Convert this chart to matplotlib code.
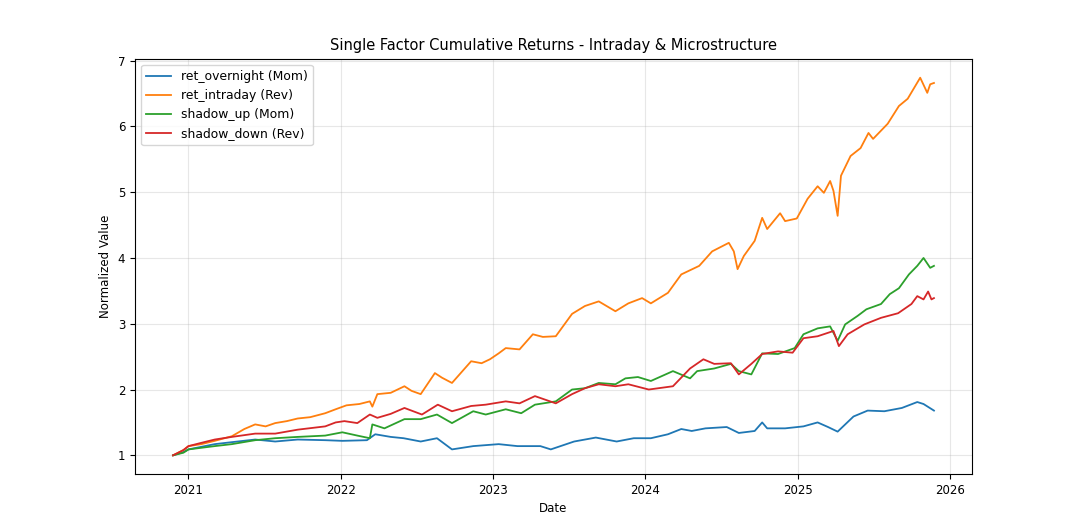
import matplotlib.pyplot as plt
import pandas as pd

# values (approximate)
overnight_dates = ['2020-11-25', '2020-12-20', '2021-01-01', '2021-03-05', '2021-04-15',
                   '2021-06-10', '2021-07-28', '2021-09-20', '2021-11-25', '2022-01-05',
                   '2022-03-05', '2022-03-25', '2022-05-01', '2022-06-01', '2022-07-12',
                   '2022-08-20', '2022-09-25', '2022-11-15', '2023-01-15', '2023-03-01',
                   '2023-04-25', '2023-05-20', '2023-07-15', '2023-09-05', '2023-10-25',
                   '2023-12-05', '2024-01-15', '2024-02-25', '2024-03-28', '2024-04-22',
                   '2024-05-25', '2024-07-15', '2024-08-13', '2024-09-20', '2024-10-08',
                   '2024-10-20', '2024-12-02', '2025-01-15', '2025-02-18', '2025-03-15',
                   '2025-04-07', '2025-05-15', '2025-06-18', '2025-07-28', '2025-09-08',
                   '2025-10-15', '2025-10-30', '2025-11-24']
overnight_vals = [1.00, 1.05, 1.09, 1.17, 1.20,
                  1.24, 1.21, 1.24, 1.23, 1.22,
                  1.23, 1.32, 1.28, 1.26, 1.21,
                  1.26, 1.09, 1.14, 1.17, 1.14,
                  1.14, 1.09, 1.21, 1.27, 1.21,
                  1.26, 1.26, 1.32, 1.40, 1.37,
                  1.41, 1.43, 1.34, 1.37, 1.50,
                  1.41, 1.41, 1.44, 1.50, 1.43,
                  1.36, 1.59, 1.68, 1.67, 1.72,
                  1.81, 1.78, 1.68]

intraday_dates = ['2020-11-25', '2020-12-20', '2021-01-01', '2021-02-01', '2021-03-05',
                  '2021-04-15', '2021-05-15', '2021-06-10', '2021-07-05', '2021-07-28',
                  '2021-08-25', '2021-09-20', '2021-10-20', '2021-11-25', '2021-12-20',
                  '2022-01-15', '2022-02-15', '2022-03-12', '2022-03-18', '2022-03-30',
                  '2022-05-01', '2022-06-03', '2022-06-20', '2022-07-12', '2022-08-15',
                  '2022-09-01', '2022-09-25', '2022-11-10', '2022-12-05', '2022-12-25',
                  '2023-01-15', '2023-02-01', '2023-03-06', '2023-04-07', '2023-05-01',
                  '2023-06-01', '2023-07-10', '2023-08-10', '2023-09-12', '2023-10-22',
                  '2023-11-22', '2023-12-25', '2024-01-15', '2024-02-25', '2024-03-28',
                  '2024-05-10', '2024-06-10', '2024-07-20', '2024-08-01', '2024-08-10',
                  '2024-08-25', '2024-09-20', '2024-10-08', '2024-10-20', '2024-11-20',
                  '2024-12-02', '2024-12-30', '2025-01-25', '2025-02-18', '2025-03-05',
                  '2025-03-20', '2025-03-28', '2025-04-07', '2025-04-15', '2025-05-08',
                  '2025-06-01', '2025-06-20', '2025-07-01', '2025-08-05', '2025-09-01',
                  '2025-09-22', '2025-10-22', '2025-11-08', '2025-11-15', '2025-11-24']
intraday_vals = [1.00, 1.08, 1.14, 1.17, 1.22,
                 1.29, 1.40, 1.47, 1.44, 1.49,
                 1.52, 1.56, 1.58, 1.64, 1.70,
                 1.76, 1.78, 1.82, 1.74, 1.93,
                 1.95, 2.05, 1.98, 1.93, 2.25,
                 2.18, 2.10, 2.43, 2.40, 2.46,
                 2.55, 2.63, 2.61, 2.84, 2.80,
                 2.81, 3.15, 3.27, 3.34, 3.19,
                 3.31, 3.39, 3.31, 3.47, 3.75,
                 3.88, 4.10, 4.23, 4.10, 3.83,
                 4.03, 4.26, 4.61, 4.44, 4.68,
                 4.56, 4.60, 4.90, 5.09, 4.99,
                 5.17, 5.02, 4.64, 5.25, 5.55,
                 5.67, 5.90, 5.81, 6.04, 6.31,
                 6.42, 6.74, 6.51, 6.64, 6.66]

shadow_up_dates = ['2020-11-25', '2020-12-20', '2021-01-01', '2021-03-05', '2021-04-15',
                   '2021-06-10', '2021-07-28', '2021-09-20', '2021-11-25', '2022-01-05',
                   '2022-02-10', '2022-03-12', '2022-03-18', '2022-04-16', '2022-06-03',
                   '2022-07-12', '2022-08-20', '2022-09-25', '2022-11-15', '2022-12-15',
                   '2023-02-01', '2023-03-10', '2023-04-12', '2023-06-01', '2023-07-10',
                   '2023-08-10', '2023-09-12', '2023-10-22', '2023-11-15', '2023-12-15',
                   '2024-01-15', '2024-03-08', '2024-04-18', '2024-05-05', '2024-06-15',
                   '2024-07-25', '2024-08-13', '2024-09-12', '2024-10-08', '2024-11-15',
                   '2024-12-25', '2025-01-15', '2025-02-18', '2025-03-20', '2025-04-07',
                   '2025-04-25', '2025-05-25', '2025-06-15', '2025-07-20', '2025-08-10',
                   '2025-09-01', '2025-09-25', '2025-10-15', '2025-10-30', '2025-11-15',
                   '2025-11-24']
shadow_up_vals = [1.00, 1.04, 1.09, 1.14, 1.17,
                  1.23, 1.26, 1.28, 1.30, 1.35,
                  1.30, 1.26, 1.47, 1.41, 1.55,
                  1.55, 1.62, 1.49, 1.67, 1.62,
                  1.70, 1.64, 1.77, 1.82, 2.00,
                  2.02, 2.10, 2.08, 2.17, 2.19,
                  2.13, 2.28, 2.17, 2.28, 2.32,
                  2.39, 2.28, 2.23, 2.55, 2.54,
                  2.63, 2.84, 2.93, 2.96, 2.74,
                  2.99, 3.12, 3.22, 3.30, 3.45,
                  3.54, 3.75, 3.88, 4.00, 3.85,
                  3.88]

shadow_down_dates = ['2020-11-25', '2020-12-20', '2021-01-01', '2021-02-01', '2021-03-05',
                     '2021-04-15', '2021-06-10', '2021-07-28', '2021-09-20', '2021-11-25',
                     '2021-12-20', '2022-01-10', '2022-02-10', '2022-03-12', '2022-03-30',
                     '2022-05-01', '2022-06-03', '2022-07-15', '2022-08-22', '2022-09-25',
                     '2022-11-10', '2022-12-15', '2023-02-01', '2023-03-06', '2023-04-12',
                     '2023-06-01', '2023-07-10', '2023-08-10', '2023-09-12', '2023-10-22',
                     '2023-11-22', '2024-01-10', '2024-03-08', '2024-04-18', '2024-05-20',
                     '2024-06-15', '2024-07-25', '2024-08-13', '2024-09-12', '2024-10-08',
                     '2024-11-15', '2024-12-20', '2025-01-15', '2025-02-18', '2025-03-28',
                     '2025-04-10', '2025-05-01', '2025-06-10', '2025-07-20', '2025-08-30',
                     '2025-10-01', '2025-10-15', '2025-10-30', '2025-11-10', '2025-11-18',
                     '2025-11-24']
shadow_down_vals = [1.00, 1.08, 1.14, 1.19, 1.24,
                    1.28, 1.33, 1.33, 1.39, 1.44,
                    1.50, 1.52, 1.49, 1.62, 1.57,
                    1.63, 1.72, 1.62, 1.77, 1.67,
                    1.75, 1.77, 1.82, 1.79, 1.90,
                    1.79, 1.93, 2.02, 2.08, 2.05,
                    2.08, 2.00, 2.05, 2.32, 2.46,
                    2.39, 2.40, 2.23, 2.39, 2.54,
                    2.58, 2.56, 2.78, 2.81, 2.89,
                    2.66, 2.84, 2.99, 3.09, 3.16,
                    3.30, 3.42, 3.37, 3.49, 3.37,
                    3.39]

series = [
    ('ret_overnight (Mom)', overnight_dates, overnight_vals),
    ('ret_intraday (Rev)', intraday_dates, intraday_vals),
    ('shadow_up (Mom)', shadow_up_dates, shadow_up_vals),
    ('shadow_down (Rev)', shadow_down_dates, shadow_down_vals),
]

fig, ax = plt.subplots(figsize=(10.8, 5.16), dpi=100)
fig.subplots_adjust(left=0.125, right=0.9, top=0.886, bottom=0.081)

for name, d, v in series:
    ax.plot(pd.to_datetime(d), v, label=name, linewidth=1.3)

ax.set_title('Single Factor Cumulative Returns - Intraday & Microstructure', fontsize=10.5)
ax.set_xlabel('Date', fontsize=8.5)
ax.set_ylabel('Normalized Value', fontsize=8.5)
ax.tick_params(labelsize=8.5)
ax.grid(True, alpha=0.3)
ax.legend(loc='upper left', fontsize=8.9)

plt.savefig('out.png')
